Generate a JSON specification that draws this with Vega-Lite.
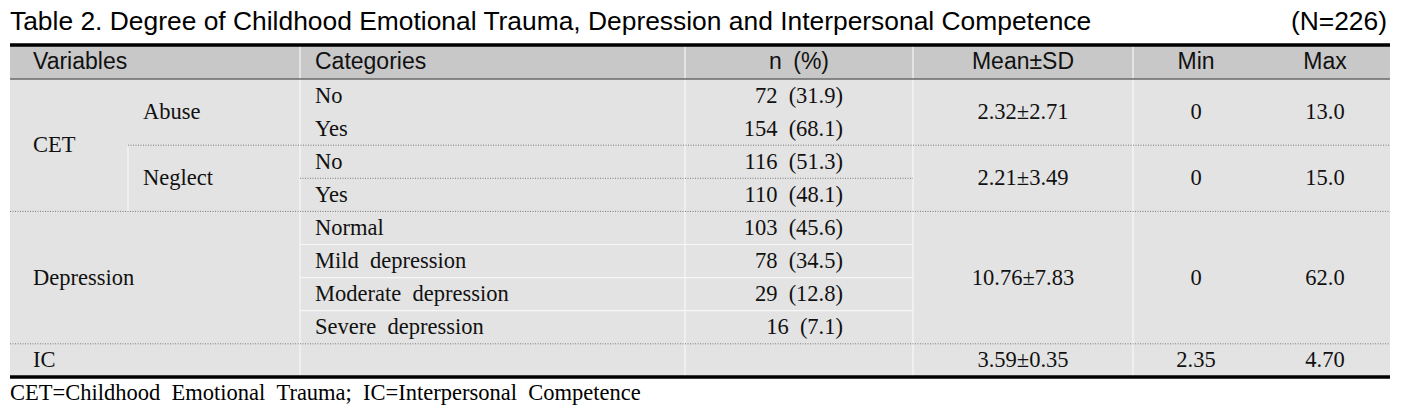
{
  "$schema": "https://vega.github.io/schema/vega-lite/v6.json",
  "width": 1410,
  "height": 414,
  "autosize": {"type": "fit", "contains": "padding"},
  "padding": 0,
  "background": "white",
  "config": {"view": {"stroke": null}},
  "datasets": {
    "columns": [
      {"col": "left", "tx": 10, "hx": 10},
      {"col": "right", "tx": 1387, "hx": 1387},
      {"col": "v1", "tx": 33, "hx": 33},
      {"col": "v2", "tx": 143, "hx": 143},
      {"col": "cat", "tx": 315, "hx": 315},
      {"col": "n", "tx": 843, "hx": 799},
      {"col": "mean", "tx": 1023, "hx": 1023},
      {"col": "min", "tx": 1196, "hx": 1196},
      {"col": "max", "tx": 1325, "hx": 1325}
    ],
    "bands": [
      {"part": "header", "x0": 10, "x1": 1390, "y0": -1.03, "y1": 0},
      {"part": "body", "x0": 10, "x1": 1390, "y0": 0, "y1": 9}
    ],
    "lines": [
      {"kind": "white", "x0": 300, "x1": 300, "y0": -1.03, "y1": 9},
      {"kind": "white", "x0": 685, "x1": 685, "y0": -1.03, "y1": 9},
      {"kind": "white", "x0": 913, "x1": 913, "y0": -1.03, "y1": 9},
      {"kind": "white", "x0": 1133, "x1": 1133, "y0": -1.03, "y1": 9},
      {"kind": "white", "x0": 128, "x1": 128, "y0": 2, "y1": 4},
      {"kind": "white", "x0": 300, "x1": 913, "y0": 5, "y1": 5},
      {"kind": "white", "x0": 300, "x1": 913, "y0": 6, "y1": 6},
      {"kind": "white", "x0": 300, "x1": 913, "y0": 7, "y1": 7},
      {"kind": "dot", "x0": 128, "x1": 1390, "y0": 2, "y1": 2},
      {"kind": "dot", "x0": 300, "x1": 913, "y0": 3, "y1": 3},
      {"kind": "dot", "x0": 10, "x1": 1390, "y0": 4, "y1": 4},
      {"kind": "dot", "x0": 10, "x1": 1390, "y0": 8, "y1": 8},
      {"kind": "head", "x0": 10, "x1": 1390, "y0": 0, "y1": 0},
      {"kind": "thick", "x0": 10, "x1": 1390, "y0": -1.03, "y1": -1.03},
      {"kind": "thick", "x0": 10, "x1": 1390, "y0": 9, "y1": 9}
    ],
    "header": [
      {"col": "v1", "label": "Variables"},
      {"col": "cat", "label": "Categories"},
      {"col": "n", "label": "n\u2002(%)"},
      {"col": "mean", "label": "Mean±SD"},
      {"col": "min", "label": "Min"},
      {"col": "max", "label": "Max"}
    ],
    "cells": [
      {"yc": 0.5, "col": "cat", "text": "No"},
      {"yc": 0.5, "col": "n", "text": "72\u2002(31.9)"},
      {"yc": 1.5, "col": "cat", "text": "Yes"},
      {"yc": 1.5, "col": "n", "text": "154\u2002(68.1)"},
      {"yc": 1.0, "col": "v2", "text": "Abuse"},
      {"yc": 1.0, "col": "mean", "text": "2.32±2.71"},
      {"yc": 1.0, "col": "min", "text": "0"},
      {"yc": 1.0, "col": "max", "text": "13.0"},
      {"yc": 2.0, "col": "v1", "text": "CET"},
      {"yc": 2.5, "col": "cat", "text": "No"},
      {"yc": 2.5, "col": "n", "text": "116\u2002(51.3)"},
      {"yc": 3.5, "col": "cat", "text": "Yes"},
      {"yc": 3.5, "col": "n", "text": "110\u2002(48.1)"},
      {"yc": 3.0, "col": "v2", "text": "Neglect"},
      {"yc": 3.0, "col": "mean", "text": "2.21±3.49"},
      {"yc": 3.0, "col": "min", "text": "0"},
      {"yc": 3.0, "col": "max", "text": "15.0"},
      {"yc": 4.5, "col": "cat", "text": "Normal"},
      {"yc": 4.5, "col": "n", "text": "103\u2002(45.6)"},
      {"yc": 5.5, "col": "cat", "text": "Mild\u2002depression"},
      {"yc": 5.5, "col": "n", "text": "78\u2002(34.5)"},
      {"yc": 6.5, "col": "cat", "text": "Moderate\u2002depression"},
      {"yc": 6.5, "col": "n", "text": "29\u2002(12.8)"},
      {"yc": 7.5, "col": "cat", "text": "Severe\u2002depression"},
      {"yc": 7.5, "col": "n", "text": "16\u2002(7.1)"},
      {"yc": 6.0, "col": "v1", "text": "Depression"},
      {"yc": 6.0, "col": "mean", "text": "10.76±7.83"},
      {"yc": 6.0, "col": "min", "text": "0"},
      {"yc": 6.0, "col": "max", "text": "62.0"},
      {"yc": 8.5, "col": "v1", "text": "IC"},
      {"yc": 8.5, "col": "mean", "text": "3.59±0.35"},
      {"yc": 8.5, "col": "min", "text": "2.35"},
      {"yc": 8.5, "col": "max", "text": "4.70"}
    ],
    "notes": [
      {"part": "title", "col": "left", "yc": -1.72, "text": "Table 2. Degree of Childhood Emotional Trauma, Depression and Interpersonal Competence"},
      {"part": "title", "col": "right", "yc": -1.72, "text": "(N=226)"},
      {"part": "foot", "col": "left", "yc": 9.5, "text": "CET=Childhood\u2002Emotional\u2002Trauma;\u2002IC=Interpersonal\u2002Competence"}
    ]
  },
  "layer": [
    {
      "data": {"name": "bands"},
      "mark": {"type": "rect"},
      "encoding": {
        "x": {"field": "x0", "type": "quantitative", "scale": {"domain": [0, 1410], "nice": false, "zero": false}, "axis": null},
        "x2": {"field": "x1"},
        "y": {"field": "y0", "type": "quantitative", "scale": {"domain": [-2.3867, 10.1208], "nice": false, "zero": false, "reverse": true}, "axis": null},
        "y2": {"field": "y1"},
        "color": {"field": "part", "type": "nominal", "scale": {"domain": ["header", "body"], "range": ["#c8c8c8", "#e3e3e3"]}, "legend": null}
      }
    },
    {
      "data": {"name": "lines"},
      "transform": [{"filter": "datum.kind === 'white'"}],
      "mark": {"type": "rule", "color": "#f7f7f7", "strokeWidth": 1.2},
      "encoding": {
        "x": {"field": "x0", "type": "quantitative"},
        "x2": {"field": "x1"},
        "y": {"field": "y0", "type": "quantitative"},
        "y2": {"field": "y1"}
      }
    },
    {
      "data": {"name": "lines"},
      "transform": [{"filter": "datum.kind === 'dot'"}],
      "mark": {"type": "rule", "color": "#7a7a7a", "strokeWidth": 1, "strokeDash": [1, 1.5]},
      "encoding": {
        "x": {"field": "x0", "type": "quantitative"},
        "x2": {"field": "x1"},
        "y": {"field": "y0", "type": "quantitative"},
        "y2": {"field": "y1"}
      }
    },
    {
      "data": {"name": "lines"},
      "transform": [{"filter": "datum.kind === 'head'"}],
      "mark": {"type": "rule", "color": "#6a6a6a", "strokeWidth": 1.5},
      "encoding": {
        "x": {"field": "x0", "type": "quantitative"},
        "x2": {"field": "x1"},
        "y": {"field": "y0", "type": "quantitative"},
        "y2": {"field": "y1"}
      }
    },
    {
      "data": {"name": "lines"},
      "transform": [{"filter": "datum.kind === 'thick'"}],
      "mark": {"type": "rule", "color": "#000000", "strokeWidth": 3.5},
      "encoding": {
        "x": {"field": "x0", "type": "quantitative"},
        "x2": {"field": "x1"},
        "y": {"field": "y0", "type": "quantitative"},
        "y2": {"field": "y1"}
      }
    },
    {
      "data": {"name": "header"},
      "transform": [
        {"lookup": "col", "from": {"data": {"name": "columns"}, "key": "col", "fields": ["hx"]}},
        {"filter": "datum.col === 'v1' || datum.col === 'cat'"}
      ],
      "mark": {"type": "text", "align": "left", "baseline": "middle", "font": "Liberation Sans", "fontSize": 23, "color": "#111111"},
      "encoding": {
        "x": {"field": "hx", "type": "quantitative"},
        "y": {"datum": -0.5, "type": "quantitative"},
        "text": {"field": "label"}
      }
    },
    {
      "data": {"name": "header"},
      "transform": [
        {"lookup": "col", "from": {"data": {"name": "columns"}, "key": "col", "fields": ["hx"]}},
        {"filter": "datum.col !== 'v1' && datum.col !== 'cat'"}
      ],
      "mark": {"type": "text", "align": "center", "baseline": "middle", "font": "Liberation Sans", "fontSize": 23, "color": "#111111"},
      "encoding": {
        "x": {"field": "hx", "type": "quantitative"},
        "y": {"datum": -0.5, "type": "quantitative"},
        "text": {"field": "label"}
      }
    },
    {
      "data": {"name": "cells"},
      "transform": [
        {"lookup": "col", "from": {"data": {"name": "columns"}, "key": "col", "fields": ["tx"]}},
        {"filter": "datum.col === 'v1' || datum.col === 'v2' || datum.col === 'cat'"}
      ],
      "mark": {"type": "text", "align": "left", "baseline": "middle", "font": "Liberation Serif", "fontSize": 22.5, "color": "#111111"},
      "encoding": {
        "x": {"field": "tx", "type": "quantitative"},
        "y": {"field": "yc", "type": "quantitative"},
        "text": {"field": "text"}
      }
    },
    {
      "data": {"name": "cells"},
      "transform": [
        {"lookup": "col", "from": {"data": {"name": "columns"}, "key": "col", "fields": ["tx"]}},
        {"filter": "datum.col === 'n'"}
      ],
      "mark": {"type": "text", "align": "right", "baseline": "middle", "font": "Liberation Serif", "fontSize": 22.5, "color": "#111111"},
      "encoding": {
        "x": {"field": "tx", "type": "quantitative"},
        "y": {"field": "yc", "type": "quantitative"},
        "text": {"field": "text"}
      }
    },
    {
      "data": {"name": "cells"},
      "transform": [
        {"lookup": "col", "from": {"data": {"name": "columns"}, "key": "col", "fields": ["tx"]}},
        {"filter": "datum.col === 'mean' || datum.col === 'min' || datum.col === 'max'"}
      ],
      "mark": {"type": "text", "align": "center", "baseline": "middle", "font": "Liberation Serif", "fontSize": 22.5, "color": "#111111"},
      "encoding": {
        "x": {"field": "tx", "type": "quantitative"},
        "y": {"field": "yc", "type": "quantitative"},
        "text": {"field": "text"}
      }
    },
    {
      "data": {"name": "notes"},
      "transform": [
        {"lookup": "col", "from": {"data": {"name": "columns"}, "key": "col", "fields": ["tx"]}},
        {"filter": "datum.part === 'title' && datum.col === 'left'"}
      ],
      "mark": {"type": "text", "align": "left", "baseline": "middle", "font": "Liberation Sans", "fontSize": 26.4, "color": "#000000"},
      "encoding": {
        "x": {"field": "tx", "type": "quantitative"},
        "y": {"field": "yc", "type": "quantitative"},
        "text": {"field": "text"}
      }
    },
    {
      "data": {"name": "notes"},
      "transform": [
        {"lookup": "col", "from": {"data": {"name": "columns"}, "key": "col", "fields": ["tx"]}},
        {"filter": "datum.part === 'title' && datum.col === 'right'"}
      ],
      "mark": {"type": "text", "align": "right", "baseline": "middle", "font": "Liberation Sans", "fontSize": 26.4, "color": "#000000"},
      "encoding": {
        "x": {"field": "tx", "type": "quantitative"},
        "y": {"field": "yc", "type": "quantitative"},
        "text": {"field": "text"}
      }
    },
    {
      "data": {"name": "notes"},
      "transform": [
        {"lookup": "col", "from": {"data": {"name": "columns"}, "key": "col", "fields": ["tx"]}},
        {"filter": "datum.part === 'foot'"}
      ],
      "mark": {"type": "text", "align": "left", "baseline": "middle", "font": "Liberation Serif", "fontSize": 22.5, "color": "#000000"},
      "encoding": {
        "x": {"field": "tx", "type": "quantitative"},
        "y": {"field": "yc", "type": "quantitative"},
        "text": {"field": "text"}
      }
    }
  ]
}
